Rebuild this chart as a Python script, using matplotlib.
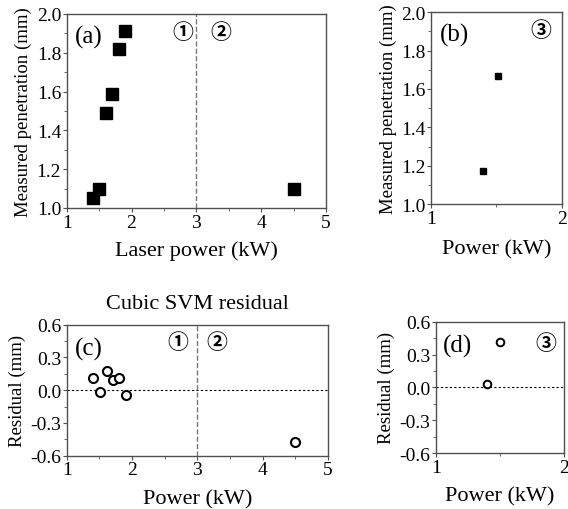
import matplotlib
matplotlib.use("Agg")
import matplotlib.pyplot as plt
from matplotlib.ticker import MultipleLocator

plt.rcParams["font.family"] = ["Liberation Serif", "DejaVu Serif"]

# (a) laser power vs measured penetration, regions 1 and 2
power_a = [1.4, 1.5, 1.6, 1.7, 1.8, 1.9, 4.5]
pen_a = [1.05, 1.10, 1.49, 1.59, 1.82, 1.91, 1.10]

# (b) region 3
power_b = [1.40, 1.51]
pen_b = [1.17, 1.67]

# (c) cubic SVM residuals, regions 1 and 2
power_c = [1.41, 1.51, 1.61, 1.71, 1.80, 1.91, 4.5]
resid_c = [0.11, -0.02, 0.18, 0.09, 0.11, -0.04, -0.47]

# (d) residuals, region 3
power_d = [1.40, 1.50]
resid_d = [0.03, 0.41]

SPINE = "#505050"
CIRC = ["Noto Sans CJK SC", "DejaVu Sans"]


def style(ax):
    for s in ax.spines.values():
        s.set_color(SPINE)
        s.set_linewidth(1.0)
    ax.tick_params(which="both", direction="out", top=False, right=False,
                   color=SPINE, labelsize=14, pad=1)
    ax.tick_params(which="major", length=3)
    ax.tick_params(which="minor", length=2)


def circ(ax, x, y, s):
    ax.text(x, y, s, transform=ax.transAxes, fontsize=15, family=CIRC,
            fontweight="bold", ha="center", va="center")


fig = plt.figure(figsize=(5.68, 5.10), dpi=100)

ax_a = fig.add_axes([0.1174, 0.5902, 0.4566, 0.3804])
ax_b = fig.add_axes([0.7588, 0.5980, 0.2306, 0.3759])
ax_c = fig.add_axes([0.1174, 0.1045, 0.4600, 0.2569])
ax_d = fig.add_axes([0.7676, 0.1098, 0.2250, 0.2575])

# (a)
ax_a.plot(power_a, pen_a, "s", color="black", markersize=8.5)
ax_a.axvline(3, color="#777777", linestyle="--", linewidth=1.0)
ax_a.set_xlim(1, 5)
ax_a.set_ylim(1.0, 2.0)
ax_a.xaxis.set_major_locator(MultipleLocator(1))
ax_a.xaxis.set_minor_locator(MultipleLocator(0.5))
ax_a.yaxis.set_major_locator(MultipleLocator(0.2))
ax_a.yaxis.set_minor_locator(MultipleLocator(0.1))
ax_a.yaxis.set_major_formatter(lambda v, p: f"{v:.1f}")
ax_a.set_xlabel("Laser power (kW)", fontsize=16, labelpad=7)
ax_a.set_ylabel("Measured penetration (mm)", fontsize=13.5, labelpad=3)
ax_a.text(0.03, 0.885, "(a)", transform=ax_a.transAxes, fontsize=18, va="center")
circ(ax_a, 0.449, 0.91, "①")
circ(ax_a, 0.595, 0.91, "②")
style(ax_a)

# (b)
ax_b.plot(power_b, pen_b, "s", color="black", markersize=5)
ax_b.set_xlim(1, 2)
ax_b.set_ylim(1.0, 2.0)
ax_b.xaxis.set_major_locator(MultipleLocator(1))
ax_b.xaxis.set_minor_locator(MultipleLocator(0.5))
ax_b.yaxis.set_major_locator(MultipleLocator(0.2))
ax_b.yaxis.set_minor_locator(MultipleLocator(0.1))
ax_b.yaxis.set_major_formatter(lambda v, p: f"{v:.1f}")
ax_b.set_xlabel("Power (kW)", fontsize=16, labelpad=9)
ax_b.set_ylabel("Measured penetration (mm)", fontsize=13.5, labelpad=3)
ax_b.text(0.07, 0.885, "(b)", transform=ax_b.transAxes, fontsize=18, va="center")
circ(ax_b, 0.835, 0.91, "③")
style(ax_b)

# (c)
ax_c.plot(power_c, resid_c, "o", markerfacecolor="white", markeredgecolor="black",
          markersize=6.5, markeredgewidth=1.5)
ax_c.axvline(3, color="#777777", linestyle="--", linewidth=1.0)
ax_c.axhline(0, color="black", linestyle=(0, (2, 2)), linewidth=0.8, zorder=0)
ax_c.set_xlim(1, 5)
ax_c.set_ylim(-0.6, 0.6)
ax_c.xaxis.set_major_locator(MultipleLocator(1))
ax_c.xaxis.set_minor_locator(MultipleLocator(0.5))
ax_c.yaxis.set_major_locator(MultipleLocator(0.3))
ax_c.yaxis.set_minor_locator(MultipleLocator(0.15))
ax_c.yaxis.set_major_formatter(lambda v, p: f"{v:.1f}")
ax_c.set_xlabel("Power (kW)", fontsize=16, labelpad=8)
ax_c.set_ylabel("Residual (mm)", fontsize=13.5, labelpad=3)
ax_c.set_title("Cubic SVM residual", fontsize=16, pad=12)
ax_c.text(0.03, 0.82, "(c)", transform=ax_c.transAxes, fontsize=18, va="center")
circ(ax_c, 0.425, 0.87, "①")
circ(ax_c, 0.575, 0.87, "②")
style(ax_c)

# (d)
ax_d.plot(power_d, resid_d, "o", markerfacecolor="white", markeredgecolor="black",
          markersize=5.5, markeredgewidth=1.4)
ax_d.axhline(0, color="black", linestyle=(0, (2, 2)), linewidth=0.8, zorder=0)
ax_d.set_xlim(1, 2)
ax_d.set_ylim(-0.6, 0.6)
ax_d.xaxis.set_major_locator(MultipleLocator(1))
ax_d.xaxis.set_minor_locator(MultipleLocator(0.5))
ax_d.yaxis.set_major_locator(MultipleLocator(0.3))
ax_d.yaxis.set_minor_locator(MultipleLocator(0.15))
ax_d.yaxis.set_major_formatter(lambda v, p: f"{v:.1f}")
ax_d.set_xlabel("Power (kW)", fontsize=16, labelpad=8)
ax_d.set_ylabel("Residual (mm)", fontsize=13.5, labelpad=3)
ax_d.text(0.05, 0.82, "(d)", transform=ax_d.transAxes, fontsize=18, va="center")
circ(ax_d, 0.86, 0.84, "③")
style(ax_d)

fig.savefig("out.png", dpi=100)
